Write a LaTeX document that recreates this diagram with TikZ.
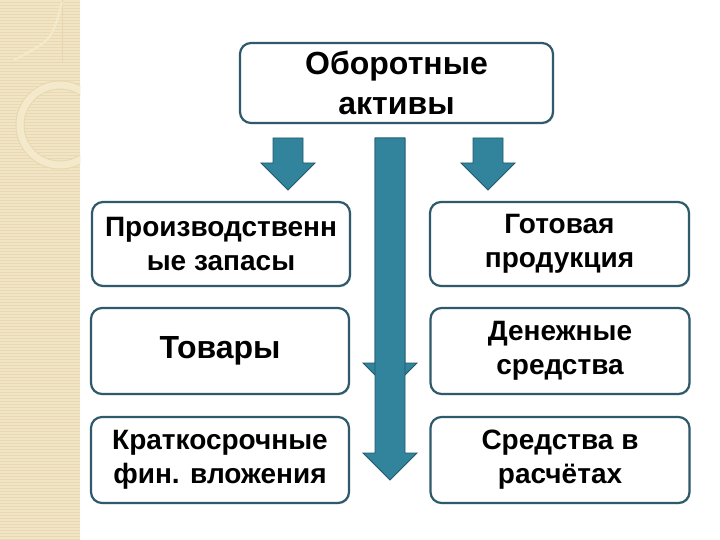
\documentclass[tikz,border=0pt]{standalone}
\usepackage{fontspec}
\setmainfont{Liberation Sans}
\usetikzlibrary{shapes, arrows, shadows, calc, positioning, fit, patterns}

\definecolor{boxline}{HTML}{2F5A6B}
\definecolor{arrowfill}{HTML}{31849B}
\definecolor{arrowline}{HTML}{23586A}
\definecolor{strip}{HTML}{F1E5C6}
\definecolor{stripline}{HTML}{E8D9B2}
\definecolor{ringcol}{HTML}{F4EACB}
\definecolor{ringedge}{HTML}{E6D7AE}

\begin{document}
\begin{tikzpicture}[x=1pt, y=-1pt,
    box/.style={draw=boxline, line width=2.2pt, rounded corners=11pt, fill=white,
        align=center, inner sep=0pt, font=\fontsize{28}{34}\selectfont\bfseries,
        drop shadow={shadow xshift=1.2pt, shadow yshift=-1.2pt, opacity=0.25}},
    blockarrow/.style={fill=arrowfill, draw=arrowline, line width=0.8pt,
        to path={let \p1=(\tikztostart), \p2=(\tikztotarget) in
            (\x1-15pt,\y1) -- (\x1+15pt,\y1) -- (\x1+15pt,\y2+27pt) -- (\x1+27pt,\y2+27pt)
            -- (\x1,\y2) -- (\x1-27pt,\y2+27pt) -- (\x1-15pt,\y2+27pt) -- cycle}}]
    \useasboundingbox (0,0) rectangle (720,540);

    % left strip
    \fill[strip] (0,0) rectangle (80,540);
    \fill[pattern=horizontal lines, pattern color=stripline] (0,0) rectangle (80,540);
    \begin{scope}
        \clip (0,0) rectangle (80,540);
        \draw[ringedge, line width=0.5pt] (0,62) -- (62,62) -- (62,0);
        \draw[ringcol, line width=2pt] (62,2) .. controls (52,40) .. (14,60);
        \draw[ringedge, line width=9pt] (60,125) circle (40);
        \draw[ringcol, line width=7pt] (60,125) circle (40);
    \end{scope}

    % nodes
    \node [box, minimum width=313pt, minimum height=80pt, font=\fontsize{32}{40}\selectfont\bfseries]
        (aktivy) at (396.5,83) {Оборотные\\активы};

    \node [box, minimum width=258pt, minimum height=84pt] (proizv) at (221,244) {Производственн\\ые запасы};
    \node [box, minimum width=258pt, minimum height=86pt, font=\fontsize{32}{38}\selectfont\bfseries]
        (tovary) at (220,351) {Товары};
    \node [box, minimum width=258pt, minimum height=86pt] (kfv) at (220,460) {Краткосрочные\\фин. вложения};

    \node [box, minimum width=259pt, minimum height=84pt] (gotov) at (559.5,244) {Готовая\\продукция};
    \node [box, minimum width=259pt, minimum height=86pt] (dengi) at (560,351) {Денежные\\средства};
    \node [box, minimum width=259pt, minimum height=86pt] (raschet) at (560,460) {Средства в\\расчётах};

    % arrows
    \coordinate (la) at (288,138);
    \coordinate (lb) at (288,190);
    \coordinate (ra) at (488,138);
    \coordinate (rb) at (488,190);
    \coordinate (ma) at (390,138);
    \coordinate (mb) at (390,390);
    \coordinate (mc) at (390,480);

    \draw [blockarrow] (la) to (lb);
    \draw [blockarrow] (ra) to (rb);
    \draw [blockarrow] (ma) to (mb);
    \draw [blockarrow] (ma) to (mc);
\end{tikzpicture}
\end{document}
